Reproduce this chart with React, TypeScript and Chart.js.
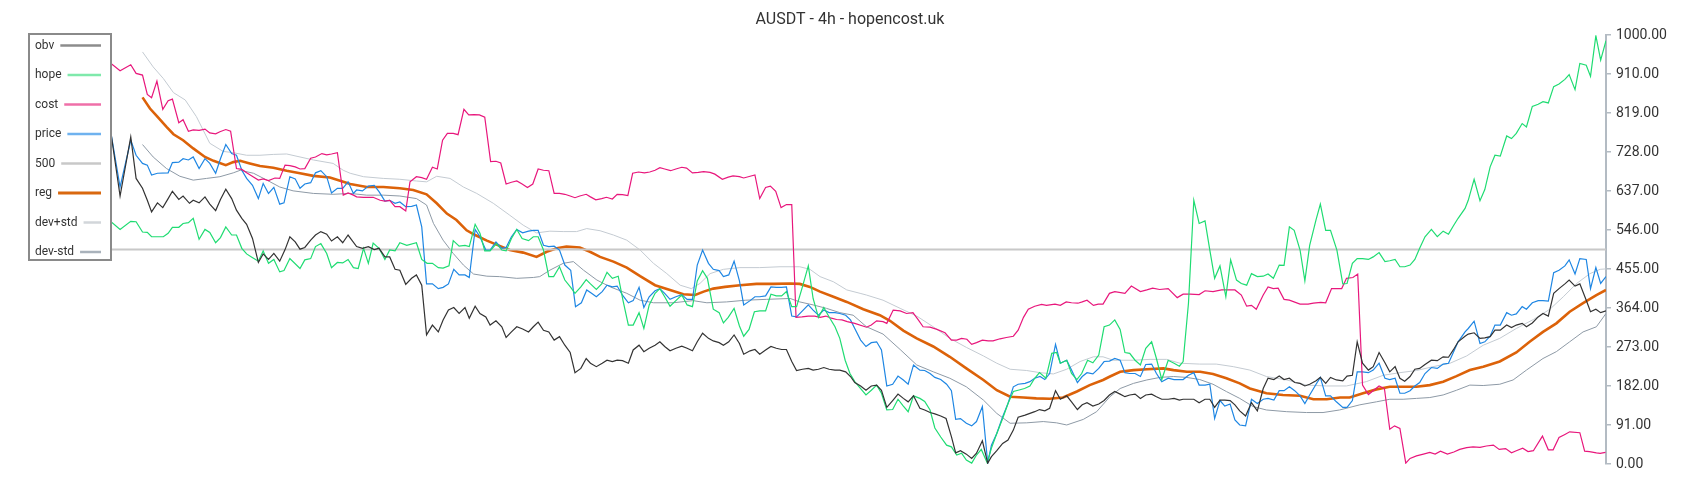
import React, { useEffect, useRef } from "react";
import { Chart, registerables } from "chart.js";

Chart.register(...registerables);

const TITLE = "AUSDT - 4h - hopencost.uk";
const LAST_INDEX = 280;
const Y_MIN = 0;
const Y_MAX = 1000;
const TICK_COUNT = 12;

// [candle index, value]
const obv = [
  [0,771],[1.7,625],[3.7,763],[4.7,666],[5.9,643],[6.8,615],[7.6,588],[8.7,609],[9.7,598],[10.7,619],[11.5,636],[12.7,617],[13.5,625],[14.7,608],[15.4,615],[16.5,609],[17.6,623],[18.5,606],[19.6,591],[20.5,617],[21.5,641],[22.6,619],[23.5,592],[24.5,573],[25.4,559],[26.5,526],[27.6,470],[28.5,490],[29.5,477],[30.5,491],[31.6,473],[32.6,500],[33.5,530],[34.5,518],[35.4,501],[36.3,505],[37.4,522],[38.3,534],[39.3,542],[40.4,536],[41.3,520],[42.4,530],[43.4,516],[44.4,534],
  [46,507],[47.1,503],[48.2,507],[49.3,500],[50.2,503],[51.3,483],[52.2,483],[53.2,454],[54.1,452],[55.2,419],[56.3,433],[57.2,441],[58.2,417],[59.1,301],[60.2,324],[61.3,308],[62.2,336],[63.2,359],[64.2,365],[65.2,351],[66.3,365],[67.1,340],[68.2,368],[69.1,351],[70.2,343],[71,324],[72.1,334],[73.2,320],[74,295],[75,308],[76,320],[77.1,315],[78.2,308],[79.1,320],[80,331],[81,312],[82,308],[83,289],[84,297],[85,277],[86,260],[86.9,213],[88,223],[89,246],[89.8,235],[90.9,227],[92,235],
  [92.9,242],[93.9,239],[94.8,242],[95.8,241],[96.9,235],[97.8,266],[98.9,277],[99.8,262],[100.8,270],[101.9,277],[102.8,285],[103.7,274],[104.7,264],[105.8,270],[106.9,275],[107.9,270],[108.9,264],[109.8,285],[110.8,305],[111.9,293],[112.8,287],[113.9,283],[114.7,277],[115.7,285],[116.7,301],[117.7,281],[118.5,256],[119.7,264],[120.6,267],[121.5,256],[122.6,266],[123.6,274],[124.6,270],[125.6,267],[126.5,267],[127.5,239],[128.4,218],[129.5,221],[130.6,223],[131.5,219],[132.5,221],[133.5,225],[134.5,221],[135.6,219],[136.5,219],[137.6,215],[138.5,204],[139.3,190],
  [140.4,182],[141.4,172],[142.4,182],[143.4,184],[144.3,172],[145.3,132],[146.4,148],[147.4,163],[148.4,153],[149.3,145],[150.3,159],[151.5,130],[152.4,126],[153.4,120],[154.3,117],[155.4,112],[156.4,106],[157.4,64],[158.2,26],[159.1,31],[160.2,23],[161.2,13],[162.1,25],[163.2,54],[164.2,2],[164.9,17],[165.9,31],[167,48],[168,56],[169,79],[169.9,109],[171.2,114],[172.1,118],[173,122],[173.9,127],[174.9,124],[175.8,130],[176.9,171],[177.8,151],[179,159],[179.9,145],[181,127],[181.9,138],[182.8,143],[183.9,135],[185,140],[186,148],
  [187,161],[188,169],[189,163],[189.9,157],[190.8,161],[191.8,163],[192.8,153],[193.8,161],[194.9,163],[195.8,157],[196.8,151],[198,151],[199.1,153],[200.1,149],[200.8,151],[201.8,151],[202.8,151],[203.8,143],[204.9,151],[205.8,151],[206.7,132],[207.7,149],[208.6,149],[209.6,148],[210.5,138],[211.4,124],[212.5,112],[213.6,143],[214.7,124],[215.8,176],[216.7,200],[217.8,197],[218.8,205],[219.7,197],[220.7,200],[221.7,190],[222.7,188],[223.6,182],[224.5,186],[225.7,194],[226.5,202],[227.5,188],[228.4,202],[229.5,196],[230.7,194],[231.5,205],[232.5,207],
  [233.4,285],[234.4,235],[235.5,219],[236.4,227],[237.5,260],[238.6,236],[239.5,215],[240.5,227],[241.4,200],[242.3,193],[243.3,204],[244.2,221],[245.1,223],[246.1,232],[247.3,242],[248.4,241],[249.5,250],[250.5,249],[251.4,266],[252.3,285],[253.6,298],[254.2,303],[255.3,306],[256.4,293],[257.3,294],[258.3,297],[259.2,312],[260.2,312],[261.4,324],[262.3,318],[263.2,324],[264.3,328],[265.1,320],[266.2,329],[267.3,343],[268.2,351],[269.2,345],[270.2,398],[271.2,409],[272.3,420],[273.1,429],[274.2,415],[275.1,420],[276.3,382],[277.1,355],[278.1,361],[279,353],[280,357]
];

const hope = [
  [0,565],[1.7,547],[3.7,566],[4.7,565],[5.9,541],[6.8,540],[7.6,530],[8.7,530],[9.8,530],[10.7,538],[11.5,552],[12.7,552],[13.5,561],[14.5,563],[15.4,573],[16.5,524],[17.6,547],[18.5,540],[19.6,516],[20.5,528],[21.5,553],[22.6,534],[23.5,534],[24.5,503],[25.4,490],[26.3,483],[27.6,473],[28.5,497],[29.5,468],[30.5,477],[31.6,448],[32.4,451],[33.5,479],[35.4,456],[36.3,476],[37.4,479],[38.3,507],[39.3,514],[40.4,491],[41.3,458],[42.4,470],[43.4,469],[44.4,477],[45.4,458],
  [46.3,456],[47.3,503],[48.2,468],[49.1,515],[50.2,503],[51.3,477],[52.2,499],[53.2,497],[54.1,516],[55.4,510],[57.2,516],[58.2,477],[59.2,468],[60.2,468],[61.3,458],[62.2,457],[63.3,462],[64.1,521],[65.2,508],[66.3,510],[67.1,507],[68.2,559],[69.1,538],[70,497],[71,497],[72.2,514],[73.2,499],[74,497],[75,526],[76,547],[77,526],[78.2,521],[79.1,530],[80,530],[81,499],[82,437],[82.9,437],[84,460],[85,429],[86.1,412],[86.9,398],[88,413],[89,430],[89.8,420],[90.9,407],[91.9,420],
  [92.9,447],[93.9,433],[95,438],[95.9,381],[96.9,324],[97.8,324],[98.9,353],[99.8,316],[100.8,371],[101.9,398],[102.8,409],[103.7,390],[104.7,368],[105.8,381],[106.9,394],[107.9,371],[108.9,367],[109.8,427],[110.8,451],[111.7,433],[112.8,361],[113.9,353],[114.7,329],[115.6,342],[116.7,363],[117.7,322],[118.5,298],[119.5,314],[120.5,355],[121.5,357],[122.6,357],[123.6,396],[124.6,392],[125.6,392],[126.5,402],[127.5,367],[128.4,367],[129.4,409],[130.6,462],[131.5,386],[132.5,342],[133.5,365],[134.5,343],[135.6,320],[136.5,293],[137.5,242],[138.4,211],[139.3,192],
  [140.4,176],[141.4,161],[142.4,172],[143.4,184],[144.3,165],[145.3,126],[146.4,127],[147.4,151],[148.4,135],[149.3,122],[150.3,159],[151.5,153],[152.4,146],[153.4,126],[154.3,84],[155.4,63],[156.5,44],[157.4,40],[158.4,21],[159.3,25],[160.2,9],[161.2,2],[162.1,21],[163,34],[164.1,3],[164.9,37],[165.9,71],[167,106],[168,141],[169,169],[169.9,172],[171.1,176],[172.1,182],[173,200],[173.9,213],[175.1,200],[176.2,258],[177.1,260],[177.8,235],[179,242],[179.9,211],[180.9,197],[181.8,211],[182.9,242],[183.9,236],[185,254],
  [186,320],[187,324],[188,336],[189,314],[189.9,260],[190.8,258],[191.8,242],[192.8,231],[193.8,270],[194.9,285],[195.8,246],[196.8,197],[198,242],[199.1,235],[200.1,228],[200.8,239],[201.8,375],[202.8,615],[203.8,561],[204.9,567],[205.8,499],[206.7,433],[207.7,462],[208.8,390],[209.7,476],[210.8,429],[211.7,421],[212.7,417],[213.6,444],[214.7,437],[215.8,438],[216.7,443],[217.7,433],[218.8,464],[219.7,463],[220.7,553],[221.6,545],[222.7,499],[223.6,427],[224.5,510],[225.7,570],[226.5,606],[227.5,545],[228.4,545],[229.6,499],[230.7,420],[231.5,421],[232.5,468],
  [233.4,479],[234.4,479],[235.5,477],[236.4,483],[237.5,493],[238.6,472],[239.5,474],[240.5,477],[241.4,460],[242.3,460],[243.3,464],[244.2,477],[245.1,503],[246.1,530],[247.3,547],[248.4,530],[249.5,543],[250.5,536],[251.4,555],[252.3,573],[253.6,596],[254.2,615],[255.3,664],[256.4,614],[257.3,640],[258.3,693],[259.2,720],[260.2,718],[261.4,765],[262.3,759],[263.2,771],[264.3,794],[265.1,786],[266.2,834],[267.3,839],[268.2,845],[269.2,842],[270.2,880],[271.2,886],[272.3,897],[273.1,908],[274.2,873],[275.1,934],[276.3,930],[277.1,904],[278.1,999],[279,942],[280,987]
];

const cost = [
  [0,934],[1.7,917],[3.7,931],[4.7,911],[5.9,907],[6.8,862],[7.6,854],[8.6,893],[9.7,827],[10.7,847],[11.5,851],[12.7,796],[13.5,803],[14.5,776],[15.4,779],[16.5,778],[17.6,781],[18.5,772],[19.6,770],[20.4,775],[21.5,780],[22.4,776],[23.5,689],[24.5,687],[25.4,679],[26.3,672],[27.6,662],[28.5,665],[29.5,661],[30.7,667],[31.6,666],[32.6,697],[33.5,696],[34.5,693],[35.4,688],[36.3,689],[37.4,713],[38.3,716],[39.5,724],[40.4,721],[41.3,723],[42.4,726],[43.5,627],[44.4,632],[45.4,627],
  [46,623],[47.3,622],[49.1,622],[50.4,615],[51.3,613],[52.2,615],[53.2,600],[54.1,600],[55.2,590],[56,658],[57.2,670],[58.2,668],[59.1,664],[60.2,692],[61.1,688],[62.1,755],[63,771],[64.1,771],[65,768],[66.1,827],[67,814],[68,815],[69,814],[70,809],[71.1,705],[72.1,706],[73,702],[74,653],[75,657],[76,660],[77,653],[78,645],[79,653],[80,688],[81,685],[82,684],[83,631],[84,631],[85,629],[86,625],[86.9,621],[87.8,625],[89,629],[89.8,623],[90.8,616],[91.9,619],
  [92.8,622],[93.9,618],[94.8,629],[95.8,628],[96.8,626],[97.7,678],[98.8,681],[99.9,679],[100.9,681],[101.9,685],[102.8,691],[103.7,688],[104.8,684],[105.8,688],[106.9,692],[107.8,690],[108.9,679],[110,680],[111,682],[112.2,680],[113.1,676],[114.5,664],[115.6,669],[116.5,672],[117.7,670],[118.5,667],[119.7,671],[120.6,674],[121.5,619],[122.6,645],[123.5,648],[124.5,636],[125.5,598],[126.5,605],[127.5,605],[128.3,342],[129.4,343],[130.6,345],[131.8,345],[132.8,342],[133.9,345],[134.9,340],[135.9,337],[136.9,336],[137.9,332],[139.3,328],
  [141.5,319],[142.4,324],[143.4,334],[144.6,332],[145.3,328],[146.5,359],[147.8,357],[149,351],[150.2,353],[151.2,336],[152.1,320],[153.4,319],[154.7,314],[156.2,306],[157.4,289],[158.4,289],[159.3,293],[160.3,291],[161.2,279],[162.1,283],[163.2,289],[164.3,287],[165.2,287],[166.5,292],[167.7,295],[169,298],[169.9,312],[170.9,342],[171.8,361],[173,368],[174.3,372],[175.2,370],[176.8,373],[177.8,370],[178.9,378],[179.9,376],[181.1,375],[181.9,378],[182.8,382],[184,370],[184.9,373],[185.8,373],
  [187,398],[188,402],[189.9,398],[191.1,415],[192.8,402],[194,406],[195.1,410],[196.4,407],[198,409],[199.7,388],[200.8,396],[202.1,396],[203.8,395],[204.9,404],[206.4,402],[208,406],[209.2,406],[210.5,406],[211.7,394],[212.7,368],[213.6,370],[214.5,361],[215.8,394],[216.7,413],[217.7,409],[218.6,410],[219.7,384],[220.7,382],[222.7,373],[224.2,373],[225.2,375],[226.6,377],[227.5,376],[228.6,409],[229.7,409],[230.5,409],[231.4,433],[232.6,435],[233.5,443],
  [234.4,184],[235.5,162],[236.5,172],[237.5,182],[238.5,176],[239.5,81],[240.4,89],[241.4,83],[242.5,2],[243.3,13],[244.5,19],[245.8,23],[247,27],[248,23],[249,30],[250.3,23],[251.5,28],[252.6,34],[253.9,38],[255.1,40],[256.4,39],[257.6,42],[258.9,44],[260,34],[261.2,36],[262.3,26],[263.2,31],[264.4,37],[265.4,29],[266.4,31],[268.1,65],[269.2,33],[270.1,33],[271.2,62],[272.3,69],[273.2,75],[275.1,73],[276,30],[276.9,29],[278.2,26],[278.9,25],[279.9,27]
];

const price = [
  [0,771],[1.7,646],[3.7,755],[4.7,720],[5.9,701],[6.8,697],[7.6,674],[8.7,678],[10.7,679],[11.5,703],[12.7,704],[13.5,712],[14.5,709],[15.4,716],[16.5,689],[17.6,712],[18.5,701],[19.6,678],[20.5,712],[21.5,745],[22.6,724],[23.5,720],[24.5,685],[25.4,666],[26.5,650],[27.6,619],[28.5,654],[29.5,631],[30.5,645],[31.6,606],[32.4,609],[33.5,670],[34.5,665],[35.4,643],[36.3,653],[37.4,656],[38.3,679],[39.3,684],[40.4,670],[41.3,632],[42.4,643],[43.4,643],[44.4,658],[45.4,631],
  [46,639],[47.1,637],[48.2,648],[49.3,650],[50.2,635],[51.3,613],[52.2,615],[53.2,608],[54.1,611],[55.2,600],[56.3,601],[57.2,604],[58.2,553],[59.1,420],[60.2,420],[61.3,409],[62.2,412],[63.2,420],[64.2,454],[65.2,441],[66.3,441],[67.1,435],[68.2,547],[69.1,530],[70.2,499],[71,499],[72.1,518],[73.2,503],[74,505],[75,530],[76,547],[77.1,539],[78.2,543],[79.1,545],[80,545],[81,510],[82,507],[83,508],[84,499],[85,464],[86.1,452],[87,367],[88.1,376],[89.1,406],[90,398],[90.9,390],[92,402],
  [92.9,417],[93.9,413],[94.8,415],[95.8,394],[96.9,376],[97.8,381],[98.9,412],[99.8,365],[100.8,390],[101.9,404],[102.8,409],[103.7,398],[104.7,384],[105.8,390],[106.9,395],[107.9,384],[108.9,384],[109.8,464],[110.8,499],[111.9,468],[112.8,454],[113.9,451],[114.7,437],[115.7,441],[116.7,473],[117.7,427],[118.5,371],[119.7,381],[120.6,390],[121.5,390],[122.6,392],[123.6,413],[124.6,412],[125.6,412],[126.5,413],[127.5,345],[128.4,343],[129.5,357],[130.6,371],[131.5,359],[132.5,347],[133.5,359],[134.5,353],[135.6,353],[136.5,351],[137.6,347],[138.5,336],[139.3,316],
  [140.4,289],[141.4,274],[142.4,283],[143.4,285],[144.3,266],[145.3,182],[146.4,186],[147.4,205],[148.4,196],[149.3,186],[150.3,231],[151.5,219],[152.4,218],[153.4,211],[154.3,202],[155.4,197],[156.5,186],[157.4,171],[158.2,104],[159.1,106],[160.2,95],[161.2,89],[162.1,99],[163.2,134],[164.2,2],[164.9,44],[165.9,71],[167,110],[168,141],[169,180],[169.9,186],[171.2,188],[172.1,192],[173,200],[174,204],[174.9,197],[175.8,211],[176.9,279],[177.8,235],[179,242],[179.9,219],[181,190],[181.9,204],[182.8,213],[183.9,210],[185,223],[186,239],
  [187,240],[188,246],[189,242],[189.9,213],[190.8,211],[191.8,211],[192.8,204],[193.8,232],[194.9,233],[195.8,211],[196.8,192],[198,200],[199.1,197],[200.1,197],[200.8,197],[201.8,207],[202.8,213],[203.8,184],[204.9,184],[205.8,186],[206.7,106],[207.7,148],[208.6,135],[209.6,140],[210.5,103],[211.4,91],[212.5,89],[213.6,151],[214.7,141],[215.8,151],[216.7,153],[217.8,149],[218.8,171],[219.7,171],[220.7,180],[221.7,171],[222.7,159],[223.6,141],[224.5,161],[225.7,186],[226.5,202],[227.5,159],[228.4,159],[229.5,145],[230.7,132],[231.5,132],[232.5,148],
  [233.4,215],[234.4,215],[235.5,213],[236.4,219],[237.5,235],[238.6,200],[239.5,197],[240.5,200],[241.4,165],[242.3,165],[243.3,171],[244.2,182],[245.1,190],[246.1,211],[247.3,225],[248.4,223],[249.5,233],[250.5,235],[251.4,260],[252.3,285],[253.6,308],[254.2,316],[255.3,333],[256.4,281],[257.3,285],[258.3,298],[259.2,324],[260.2,324],[261.4,353],[262.3,347],[263.2,350],[264.3,367],[265.1,361],[266.2,376],[267.3,381],[268.2,381],[269.2,380],[270.2,446],[271.2,452],[272.3,462],[273.1,476],[274.2,443],[275.1,479],[276.3,477],[277.1,409],[278.1,458],[279,421],[280,437]
];

const reg = [
  [5.9,855],[7.3,829],[8.6,811],[10.4,786],[11.7,769],[13.5,755],[15.4,736],[17.6,716],[19.2,707],[21.5,697],[22.9,704],[24.2,707],[26,701],[27.9,695],[30.4,691],[32.9,684],[35.4,678],[37.9,672],[41,668],[43.5,658],[44.8,653],[47.9,646],[51,646],[54.1,643],[56.6,639],[59.1,629],[61,608],[62.9,584],[64.7,569],[66.6,545],[68.2,534],[70.4,521],[72.9,508],[74.7,499],[77.2,493],[79.7,483],[81.6,495],[83.5,503],[85.3,507],[87.8,505],[89.7,495],[91.6,483],[94.1,472],[96.6,458],[99.1,438],[101.9,417],[104.7,406],[107.2,396],[109.4,394],[111,402],[112.8,409],[115,413],[117.8,417],[120.9,420],[124.1,420],[127.2,421],[129,420],[130.9,413],[132.8,402],[135.3,390],[137.8,378],[140.9,361],[144,347],[145.9,334],[148.4,311],[150.9,293],[154,274],[157.1,250],[160.2,223],[163.4,196],[165.9,172],[168.4,157],[170.9,155],[173.3,153],[175.8,152],[178.3,155],[180.9,169],[183.3,184],[185.8,196],[187.1,204],[189,215],[191.5,219],[194,221],[197.1,223],[199,219],[201.5,215],[204,215],[206.4,210],[208.9,200],[211.4,188],[213.3,176],[216.4,165],[219.5,161],[222.7,159],[225.2,151],[227.7,151],[230.2,155],[232,155],[234.5,165],[237,174],[239.5,180],[242,180],[244.5,180],[247,184],[249.5,192],[252,205],[254.5,219],[257,227],[260.1,239],[263.2,260],[265.7,285],[268.2,308],[270.7,328],[273.2,355],[275.7,375],[278.2,394],[280,406]
];

const devPlus = [
  [5.9,961],[7.9,926],[9.8,899],[11.7,866],[13.9,849],[16,810],[18.5,748],[21,729],[22.9,726],[25.4,720],[27.9,720],[30.4,722],[32.9,723],[35.4,716],[37.9,709],[41.6,701],[43.5,685],[44.8,678],[47.3,670],[51,666],[54.1,664],[57.2,660],[59.1,658],[61,671],[63.5,666],[66,646],[68.5,631],[71.6,608],[74.7,580],[77.2,557],[79.7,539],[82.2,543],[84.7,542],[87.2,542],[89.1,549],[91.6,544],[94.1,534],[96.6,522],[99.1,499],[101.6,468],[104.1,444],[106.6,417],[108.7,409],[110.3,421],[112.2,444],[114.7,454],[117.8,458],[121.5,458],[125.3,460],[129,460],[130.9,454],[132.8,437],[135.3,425],[137.8,406],[140.3,398],[141.5,394],[144.6,382],[147.8,363],[150.9,345],[154,320],[157.1,293],[160.2,272],[163.4,252],[165.9,235],[168.4,221],[171.5,218],[174,213],[176.5,210],[179,221],[181.5,239],[184,250],[185.8,250],[187.7,242],[191.5,242],[194.6,244],[197.7,244],[200.2,235],[203.9,233],[207,233],[210.2,227],[213.3,219],[216.4,204],[220.2,196],[223.9,184],[227.7,182],[231.4,182],[235.1,192],[238.3,207],[241.4,213],[244.5,218],[247.6,227],[250.8,235],[253.9,252],[257,277],[260.1,293],[263.2,316],[266.4,337],[269.5,361],[272,390],[274.5,421],[277,444],[278.9,454],[280,455]
];

const devMinus = [
  [5.9,745],[7.9,716],[10.4,689],[12.9,671],[15.4,662],[17.9,666],[20.4,670],[22.9,679],[24.2,685],[26.7,678],[29.2,662],[31.6,646],[34.1,637],[37.9,631],[41.6,629],[44.8,631],[47.9,627],[51,627],[54.1,625],[57.2,619],[59.1,604],[60.4,561],[62.2,522],[64.1,491],[66,464],[67.9,443],[70.4,438],[72.8,437],[76,433],[79.1,435],[80.3,437],[82.2,452],[84.7,468],[86.6,472],[88.5,452],[91,429],[93.5,413],[96.6,398],[99.1,382],[101.6,376],[105.3,376],[109,381],[111.6,376],[115.3,378],[118.9,382],[122.8,384],[127.2,386],[129,378],[131.5,371],[134,363],[136.5,353],[139,347],[141.5,320],[144.6,303],[147.8,267],[150.9,231],[154,215],[157.1,200],[160.2,180],[163.4,149],[165.9,118],[168.4,95],[171.5,96],[174.6,99],[177.1,96],[179,91],[182.1,104],[184.6,122],[187.1,157],[189,176],[191.5,188],[194,196],[196.5,202],[199,204],[201.4,202],[203.9,197],[206.4,186],[208.9,169],[211.4,153],[213.9,134],[216.4,126],[220.2,122],[223.9,120],[227,120],[230.1,126],[233.9,138],[237,145],[239.5,151],[242,151],[244.5,153],[247,155],[249.5,161],[252,172],[254.5,184],[257,183],[260.1,186],[262.6,196],[265.1,219],[268.2,246],[270.7,262],[273.2,285],[275.7,308],[278.2,320],[280,351]
];

const LEVEL = 500;
const levelLine = [[0, LEVEL], [LAST_INDEX, LEVEL]];

const seriesLabels = ["obv", "hope", "cost", "price", "500", "reg", "dev+std", "dev-std"];
const lineColors = ["#333333", "#1fdc72", "#e8177c", "#1e86e3", "#c8c8c8", "#dc6209", "#c4cbd2", "#8e9aa6"];
const legendColors = ["#8c8c8c", "#7fe9ab", "#ef6fa8", "#6fb2ef", "#c8c8c8", "#d9680f", "#d2d6da", "#a9b2bb"];
const lineWidths = [1.2, 1.2, 1.2, 1.2, 2, 2.6, 1, 1];
const legendWidths = [2.5, 2.5, 2.5, 2.5, 2.5, 3, 2.5, 2.5];

const toXY = (arr: number[][]) => arr.map(([x, y]) => ({ x, y }));

const boxLegend = {
  id: "boxLegend",
  afterDraw(chart: any) {
    const ctx = chart.ctx;
    ctx.save();
    const x0 = 21, y0 = 26, w = 82, h = 226;
    ctx.fillStyle = "#ffffff";
    ctx.fillRect(x0, y0, w, h);
    ctx.strokeStyle = "#8a8a8a";
    ctx.lineWidth = 2;
    ctx.strokeRect(x0, y0, w, h);
    ctx.font = "12px Roboto";
    ctx.textBaseline = "middle";
    ctx.textAlign = "left";
    seriesLabels.forEach((label, k) => {
      const y = y0 + 11.5 + k * 29.5;
      ctx.fillStyle = "#333333";
      ctx.fillText(label, x0 + 6, y);
      const tw = ctx.measureText(label).width;
      ctx.strokeStyle = legendColors[k];
      ctx.lineWidth = legendWidths[k];
      ctx.beginPath();
      ctx.moveTo(x0 + 6 + tw + 6, y);
      ctx.lineTo(x0 + w - 10, y);
      ctx.stroke();
    });
    ctx.restore();
  },
};

export default function App() {
  const ref = useRef<HTMLCanvasElement | null>(null);
  useEffect(() => {
    if (!ref.current) return;
    const sources = [obv, hope, cost, price, levelLine, reg, devPlus, devMinus];
    const chart = new Chart(ref.current, {
      type: "line",
      data: {
        datasets: sources.map((src, k) => ({
          label: seriesLabels[k],
          data: toXY(src),
          borderColor: lineColors[k],
          backgroundColor: lineColors[k],
          borderWidth: lineWidths[k],
          pointRadius: 0,
          tension: 0,
          fill: false,
          yAxisID: "y",
        })),
      },
      options: {
        animation: false,
        responsive: true,
        maintainAspectRatio: false,
        layout: { padding: { left: 0, right: 0, top: 0, bottom: 28 } },
        plugins: {
          legend: { display: false },
          tooltip: { enabled: false },
          title: {
            display: true,
            text: TITLE,
            color: "#333333",
            font: { family: "Roboto", size: 16, weight: "normal" },
            padding: { top: 2, bottom: 6 },
          },
        },
        scales: {
          x: { type: "linear", min: 0, max: LAST_INDEX, display: false },
          gutter: {
            type: "linear",
            position: "left",
            min: 0,
            max: 1,
            border: { display: false },
            grid: { display: false },
            ticks: { display: false },
            afterFit: (s: any) => { s.width = 103; },
          },
          y: {
            position: "right",
            min: Y_MIN,
            max: Y_MAX,
            afterFit: (s: any) => { s.width = 86; },
            border: { display: true, color: "#b3bbc3", width: 2 },
            grid: { drawOnChartArea: false, drawTicks: true, tickLength: 5, color: "#b3bbc3", lineWidth: 1.5 },
            ticks: {
              count: TICK_COUNT,
              autoSkip: false,
              padding: 5,
              color: "#333333",
              font: { family: "Roboto", size: 14 },
              callback: (v: any) => Math.ceil(Number(v) - 1e-9).toFixed(2),
            },
          },
        },
      },
      plugins: [boxLegend],
    });
    return () => chart.destroy();
  }, []);
  return (
    <div style={{ width: "100%", height: 484, position: "relative", background: "#fff" }}>
      <canvas ref={ref} />
    </div>
  );
}
